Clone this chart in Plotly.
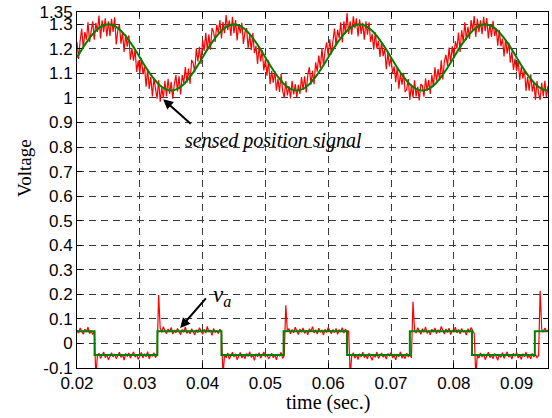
import numpy as np
import plotly.graph_objects as go

# ---- data ---------------------------------------------------------------
# sampling of the measured traces (s)
T0 = 0.02
DT_MEAS = 0.00025
DT_REF = 0.001

# measured position-sensor voltage (noisy), one sample every 0.25 ms
sensed_position = [
    1.228, 1.159, 1.233, 1.282, 1.203, 1.268, 1.237, 1.308, 1.228, 1.282, 1.312, 1.237, 1.306, 1.269, 1.336, 1.242, 1.316, 1.268, 1.324, 1.250,
    1.312, 1.253, 1.322, 1.269, 1.328, 1.218, 1.276, 1.300, 1.221, 1.268, 1.187, 1.258, 1.209, 1.255, 1.156, 1.202, 1.152, 1.197, 1.106, 1.152,
    1.101, 1.163, 1.097, 1.128, 1.046, 1.118, 1.037, 1.086, 1.006, 1.080, 1.034, 0.997, 1.072, 0.985, 1.042, 1.000, 1.070, 1.006, 1.078, 1.016,
    1.066, 0.997, 1.056, 1.093, 1.026, 1.088, 1.014, 1.094, 1.061, 1.126, 1.062, 1.120, 1.057, 1.155, 1.141, 1.104, 1.202, 1.149, 1.208, 1.138,
    1.236, 1.191, 1.265, 1.194, 1.259, 1.196, 1.285, 1.268, 1.228, 1.298, 1.264, 1.317, 1.242, 1.309, 1.264, 1.338, 1.276, 1.316, 1.252, 1.330,
    1.264, 1.317, 1.234, 1.301, 1.264, 1.306, 1.220, 1.268, 1.285, 1.204, 1.259, 1.194, 1.265, 1.183, 1.212, 1.138, 1.208, 1.149, 1.194, 1.112,
    1.157, 1.091, 1.153, 1.056, 1.110, 1.062, 1.109, 1.030, 1.078, 1.024, 1.098, 1.029, 1.000, 1.069, 1.010, 1.048, 0.998, 1.070, 1.014, 1.056,
    1.002, 1.053, 1.016, 1.085, 1.034, 1.088, 1.022, 1.094, 1.125, 1.054, 1.110, 1.056, 1.145, 1.107, 1.173, 1.120, 1.202, 1.133, 1.192, 1.226,
    1.172, 1.239, 1.177, 1.242, 1.283, 1.212, 1.277, 1.244, 1.308, 1.226, 1.312, 1.261, 1.346, 1.261, 1.312, 1.258, 1.332, 1.284, 1.324, 1.250,
    1.320, 1.261, 1.306, 1.237, 1.312, 1.258, 1.308, 1.228, 1.261, 1.196, 1.267, 1.202, 1.233, 1.167, 1.228, 1.170, 1.200, 1.117, 1.186, 1.128,
    1.165, 1.099, 1.129, 1.064, 1.126, 1.038, 1.101, 1.054, 1.102, 1.024, 1.034, 1.077, 0.992, 1.053, 1.002, 1.072, 1.006, 1.046, 0.990, 1.056,
    1.050, 1.005, 1.080, 1.029, 1.074, 1.016, 1.094, 1.046, 1.125, 1.070, 1.118, 1.072, 1.153, 1.075, 1.149, 1.176, 1.130, 1.205, 1.144, 1.210,
    1.164, 1.231, 1.201, 1.266, 1.187, 1.276, 1.229, 1.308, 1.236, 1.290, 1.240, 1.317, 1.274, 1.333, 1.248, 1.322, 1.268, 1.316, 1.260, 1.330,
    1.272, 1.325, 1.242, 1.301, 1.248, 1.314, 1.252, 1.284, 1.213, 1.276, 1.211, 1.242, 1.169, 1.239, 1.180, 1.226, 1.144, 1.189, 1.114, 1.160,
    1.109, 1.155, 1.073, 1.128, 1.078, 1.118, 1.029, 1.086, 1.030, 1.096, 1.026, 1.061, 0.992, 1.069, 1.018, 0.992, 1.062, 1.006, 1.070, 1.000,
    1.050,
]

# measured phase voltage v_a (noisy, with switching spikes), every 0.25 ms
phase_voltage = [
    0.055, 0.042, 0.063, 0.048, 0.038, 0.058, 0.047, 0.066, 0.040, 0.052, 0.036, 0.050,
    -0.130,
    -0.052, -0.040, -0.061, -0.046, -0.035, -0.058, -0.044, -0.067, -0.049, -0.038,
    -0.055, -0.043, -0.062, -0.050, -0.036, -0.057, -0.045, -0.068, -0.041, -0.053,
    -0.039, -0.060, -0.047, -0.034, -0.056, -0.044, -0.065, -0.048, -0.037, -0.059,
    -0.042, -0.054, -0.033, -0.063, -0.046, -0.051, -0.038, -0.058, -0.044,
    0.197,
    0.062, 0.045, 0.068, 0.052, 0.040, 0.059, 0.047, 0.065, 0.038, 0.055,
    0.043, 0.061, 0.049, 0.036, 0.057, 0.046, 0.067, 0.041, 0.053, 0.039,
    0.060, 0.048, 0.035, 0.056, 0.044, 0.064, 0.050, 0.037, 0.058, 0.042,
    0.069, 0.047, 0.054, 0.033, 0.061, 0.045, 0.052, 0.040, 0.058, 0.046,
    -0.130,
    -0.045, -0.058, -0.039, -0.064, -0.050, -0.036, -0.055, -0.043, -0.066, -0.048,
    -0.037, -0.059, -0.046, -0.062, -0.041, -0.053, -0.034, -0.057, -0.047, -0.069,
    -0.042, -0.054, -0.038, -0.060, -0.049, -0.035, -0.056, -0.044, -0.063, -0.051,
    -0.040, -0.058, -0.045, -0.067, -0.043, -0.052, -0.036, -0.061, -0.048,
    0.155,
    0.048, 0.061, 0.039, 0.057, 0.044, 0.066, 0.051, 0.036, 0.059, 0.046,
    0.063, 0.041, 0.054, 0.035, 0.060, 0.049, 0.068, 0.043, 0.056, 0.038,
    0.062, 0.047, 0.053, 0.034, 0.058, 0.045, 0.065, 0.050, 0.040, 0.057,
    0.044, 0.061, 0.037, 0.055, 0.048, 0.064, 0.042, 0.059, 0.046, 0.052,
    -0.130,
    -0.051, -0.038, -0.060, -0.045, -0.066, -0.042, -0.055, -0.036, -0.058, -0.047,
    -0.063, -0.040, -0.053, -0.069, -0.044, -0.057, -0.035, -0.061, -0.049, -0.039,
    -0.056, -0.046, -0.064, -0.041, -0.052, -0.037, -0.059, -0.048, -0.067, -0.043,
    -0.054, -0.034, -0.060, -0.047, -0.062, -0.040, -0.055, -0.045, -0.058,
    0.170,
    0.055, 0.042, 0.064, 0.049, 0.037, 0.060, 0.046, 0.067, 0.041, 0.053,
    0.035, 0.058, 0.047, 0.063, 0.040, 0.056, 0.044, 0.069, 0.050, 0.038,
    0.059, 0.045, 0.062, 0.036, 0.054, 0.048, 0.066, 0.043, 0.057, 0.039,
    0.061, 0.047, 0.052, 0.034, 0.060, 0.045, 0.065, 0.049, 0.041,
    -0.130,
    -0.047, -0.060, -0.039, -0.055, -0.043, -0.066, -0.050, -0.036, -0.058, -0.045,
    -0.062, -0.041, -0.053, -0.068, -0.044, -0.057, -0.037, -0.061, -0.048, -0.034,
    -0.056, -0.046, -0.064, -0.040, -0.052, -0.038, -0.059, -0.049, -0.065, -0.042,
    -0.054, -0.035, -0.060, -0.047, -0.063, -0.041, -0.055, -0.044, -0.058, -0.050,
    0.215,
    0.058, 0.046, 0.063, 0.050, 0.055,
]

# ideal (reference) position signal, one sample every 1 ms
ideal_position = [
    1.165, 1.207, 1.244, 1.274, 1.293, 1.300, 1.293, 1.274, 1.244, 1.207,
    1.165, 1.123, 1.086, 1.056, 1.037, 1.030, 1.037, 1.056, 1.086, 1.123,
    1.165, 1.207, 1.244, 1.274, 1.293, 1.300, 1.293, 1.274, 1.244, 1.207,
    1.165, 1.123, 1.086, 1.056, 1.037, 1.030, 1.037, 1.056, 1.086, 1.123,
    1.165, 1.207, 1.244, 1.274, 1.293, 1.300, 1.293, 1.274, 1.244, 1.207,
    1.165, 1.123, 1.086, 1.056, 1.037, 1.030, 1.037, 1.056, 1.086, 1.123,
    1.165, 1.207, 1.244, 1.274, 1.293, 1.300, 1.293, 1.274, 1.244, 1.207,
    1.165, 1.123, 1.086, 1.056, 1.037, 1.030,
]

# ideal phase voltage: switching instants (s) and the level held after each
ideal_va_t = [0.020, 0.0228, 0.0328, 0.0430, 0.0529, 0.0630, 0.0730, 0.0829, 0.0929, 0.095]
ideal_va_v = [0.050, -0.047, 0.050, -0.047, 0.050, -0.047, 0.050, -0.047, 0.050, 0.050]

x_ticks = [0.02, 0.03, 0.04, 0.05, 0.06, 0.07, 0.08, 0.09]
x_labels = ["0.02", "0.03", "0.04", "0.05", "0.06", "0.07", "0.08", "0.09"]
y_ticks = [-0.1, 0, 0.1, 0.2, 0.3, 0.4, 0.5, 0.6, 0.7, 0.8, 0.9, 1.0, 1.1, 1.2, 1.3, 1.35]
y_labels = ["-0.1", "0", "0.1", "0.2", "0.3", "0.4", "0.5", "0.6", "0.7", "0.8",
            "0.9", "1", "1.1", "1.2", "1.3", "1.35"]

t_meas = T0 + DT_MEAS * np.arange(len(sensed_position))
t_va = T0 + DT_MEAS * np.arange(len(phase_voltage))
t_ref = T0 + DT_REF * np.arange(len(ideal_position))

# ---- figure -------------------------------------------------------------
RED = "#ff0000"
GREEN = "#008000"
SERIF = "Liberation Serif"
SANS = "Liberation Sans"

fig = go.Figure()
fig.add_trace(go.Scatter(x=t_meas, y=sensed_position, mode="lines",
                         line=dict(color=RED, width=1.2), showlegend=False))
fig.add_trace(go.Scatter(x=t_va, y=phase_voltage, mode="lines",
                         line=dict(color=RED, width=1.2), showlegend=False))
fig.add_trace(go.Scatter(x=t_ref, y=ideal_position, mode="lines",
                         line=dict(color=GREEN, width=2, shape="spline"), showlegend=False))
fig.add_trace(go.Scatter(x=ideal_va_t, y=ideal_va_v, mode="lines",
                         line=dict(color=GREEN, width=2, shape="hv"), showlegend=False))

axis_common = dict(
    showline=True, linecolor="black", linewidth=1, mirror="ticks",
    ticks="inside", ticklen=5, tickcolor="black", tickwidth=1,
    showgrid=True, gridcolor="#3a3a3a", gridwidth=1, griddash="7px,5px",
    zeroline=False, tickfont=dict(family=SANS, size=17, color="black"),
)
fig.update_xaxes(range=[0.02, 0.095], tickmode="array", tickvals=x_ticks,
                 ticktext=x_labels, **axis_common)
fig.update_yaxes(range=[-0.1, 1.35], tickmode="array", tickvals=y_ticks,
                 ticktext=y_labels, **axis_common)

annotations = [
    # arrows
    dict(x=0.03372, y=0.995, ax=0.03834, ay=0.889, xref="x", yref="y",
         axref="x", ayref="y", text="", showarrow=True, arrowhead=2,
         arrowsize=1, arrowwidth=2, arrowcolor="black"),
    dict(x=0.03643, y=0.063, ax=0.04073, ay=0.190, xref="x", yref="y",
         axref="x", ayref="y", text="", showarrow=True, arrowhead=2,
         arrowsize=1, arrowwidth=2, arrowcolor="black"),
    # labels
    dict(x=0.05134, y=0.8276, xref="x", yref="y", showarrow=False,
         xanchor="center", yanchor="middle",
         text="<i>sensed position signal</i>",
         font=dict(family=SERIF, size=20, color="black")),
    dict(x=0.0414, y=0.193, xref="x", yref="y", showarrow=False,
         xanchor="left", yanchor="middle",
         text="<i>v</i><sub><i>a</i></sub>",
         font=dict(family=SERIF, size=23, color="black")),
    dict(x=-0.1104, y=0.5618, xref="paper", yref="paper", showarrow=False,
         xanchor="center", yanchor="middle",
         text="Voltage", textangle=-90,
         font=dict(family=SERIF, size=19, color="black")),
    dict(x=0.5329, y=-0.0983, xref="paper", yref="paper", showarrow=False,
         xanchor="center", yanchor="middle",
         text="time (sec.)",
         font=dict(family=SERIF, size=20, color="black")),
]

fig.update_layout(
    width=552, height=418, autosize=False,
    margin=dict(l=77, r=4, t=12, b=50),
    paper_bgcolor="white", plot_bgcolor="white",
    annotations=annotations,
)

fig.write_html("out.html")
